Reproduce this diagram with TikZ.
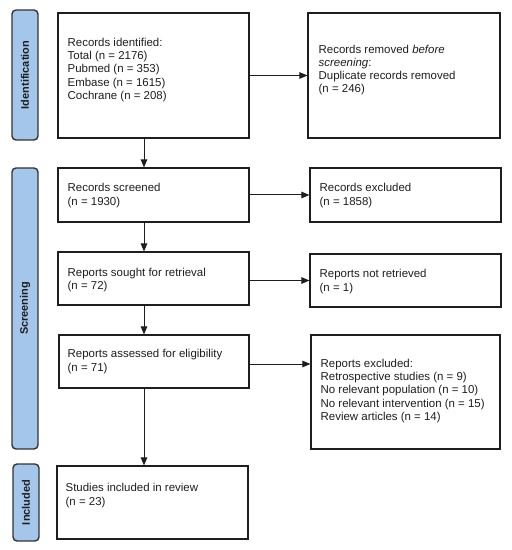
\documentclass[tikz,border=0pt]{standalone}
\usepackage{fontspec}
\setmainfont{Liberation Sans}
\usetikzlibrary{arrows.meta,calc}
\definecolor{labblue}{HTML}{A4C6EA}
\definecolor{ink}{HTML}{1E1E1E}
\tikzset{
  boxnode/.style={draw=ink, line width=1.1bp, rectangle, inner sep=0pt},
  txt/.style={anchor=west, align=left, inner sep=0pt, text=ink,
    font=\fontsize{11.5}{13.3}\selectfont},
  phase/.style={draw=black!80, fill=labblue, line width=1.4bp, rounded corners=4bp,
    minimum width=26bp, inner sep=0pt},
  phasetxt/.style={rotate=90, font=\fontsize{11}{13}\selectfont\bfseries, text=ink, inner sep=0pt},
  arr/.style={draw=ink, line width=1bp, -{Triangle[length=8bp,width=6.5bp]}}
}
\begin{document}
\begin{tikzpicture}[x=1bp,y=-1bp]
\useasboundingbox (0,0) rectangle (512,550);
% phase labels
\node[phase, minimum height=130bp] (lab1) at (25,75) {};
\node[phasetxt] (lab1t) at (lab1.center) {Identification};
\node[phase, minimum height=281bp] (lab2) at (25,308.5) {};
\node[phasetxt] (lab2t) at (lab2.center) {Screening};
\node[phase, minimum height=77bp] (lab3) at (26,502.5) {};
\node[phasetxt] (lab3t) at (lab3.center) {Included};
% boxes
\node[boxnode, minimum width=191bp, minimum height=125bp] (id) at (153.5,75.5) {};
\node[boxnode, minimum width=192bp, minimum height=125bp] (rem) at (404,75.5) {};
\node[boxnode, minimum width=191bp, minimum height=54bp] (scr) at (153.5,195) {};
\node[boxnode, minimum width=191bp, minimum height=54bp] (exc1) at (405.5,195) {};
\node[boxnode, minimum width=191bp, minimum height=53bp] (sought) at (153.5,278.5) {};
\node[boxnode, minimum width=191bp, minimum height=53bp] (notret) at (405.5,280.5) {};
\node[boxnode, minimum width=190bp, minimum height=53bp] (assess) at (154,361.5) {};
\node[boxnode, minimum width=189bp, minimum height=114bp] (exc2) at (405.5,392) {};
\node[boxnode, minimum width=191bp, minimum height=73bp] (incl) at (152.5,502.5) {};
% texts
\node[txt] (idt) at ($(id.west)+(10,-5.5)$) {Records identified:\\Total (n = 2176)\\Pubmed (n = 353)\\Embase (n = 1615)\\Cochrane (n = 208)};
\node[txt] (remt) at ($(rem.west)+(11,-5.5)$) {Records removed \textit{before}\\\textit{screening}:\\Duplicate records removed\\(n = 246)};
\node[txt] (scrt) at ($(scr.west)+(10,0.5)$) {Records screened\\(n = 1930)};
\node[txt] (exc1t) at ($(exc1.west)+(10,0.5)$) {Records excluded\\(n = 1858)};
\node[txt] (soughtt) at ($(sought.west)+(10,1.5)$) {Reports sought for retrieval\\(n = 72)};
\node[txt] (notrett) at ($(notret.west)+(10,1)$) {Reports not retrieved\\(n = 1)};
\node[txt] (assesst) at ($(assess.west)+(9,0)$) {Reports assessed for eligibility\\(n = 71)};
\node[txt] (exc2t) at ($(exc2.west)+(10,-1)$) {Reports excluded:\\Retrospective studies (n = 9)\\No relevant population (n = 10)\\No relevant intervention (n = 15)\\Review articles (n = 14)};
\node[txt] (inclt) at ($(incl.west)+(9,-7)$) {Studies included in review\\(n = 23)};
% connectors
\coordinate (ax) at (144,0);
\draw[arr] (id.south -| ax) -- (scr.north -| ax);
\draw[arr] (scr.south -| ax) -- (sought.north -| ax);
\draw[arr] (sought.south -| ax) -- (assess.north -| ax);
\draw[arr] (assess.south -| ax) -- (incl.north -| ax);
\draw[arr] (id.east) -- (id.east -| rem.west);
\draw[arr] (scr.east) -- (scr.east -| exc1.west);
\draw[arr] (sought.east |- notret.west) -- (notret.west);
\draw[arr] ([yshift=-2.5bp]assess.east) -- ([yshift=-2.5bp]assess.east -| exc2.west);
\end{tikzpicture}
\end{document}
